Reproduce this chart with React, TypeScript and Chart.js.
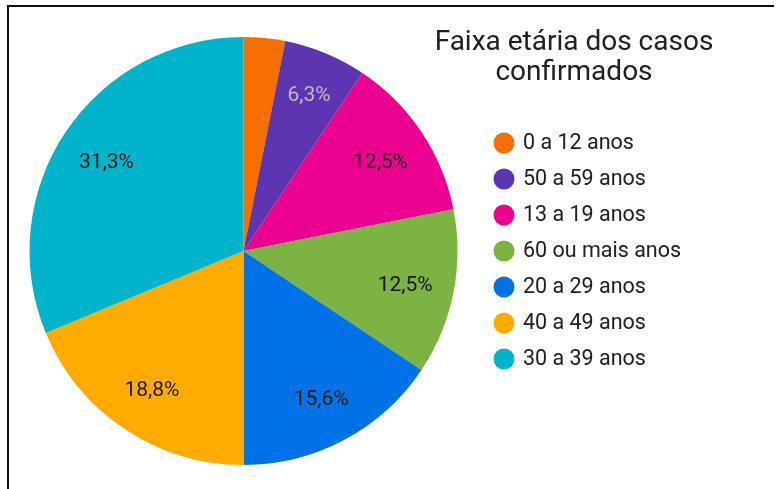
import React, { useEffect, useRef } from "react";
import { Chart, registerables } from "chart.js";

Chart.register(...registerables);

const categories = [
  "0 a 12 anos",
  "50 a 59 anos",
  "13 a 19 anos",
  "60 ou mais anos",
  "20 a 29 anos",
  "40 a 49 anos",
  "30 a 39 anos",
];
const counts = [1, 2, 4, 4, 5, 6, 10];
const percentLabels = ["3,1%", "6,3%", "12,5%", "12,5%", "15,6%", "18,8%", "31,3%"];
const colors = ["#f57000", "#5e35b1", "#ec0090", "#7cb342", "#0072e8", "#ffab00", "#00b4cb"];
const labelColors = ["#000000", "#bdbdbd", "#1a1a1a", "#1a1a1a", "#1a1a1a", "#1a1a1a", "#1a1a1a"];
const titleLines = ["Faixa etária dos casos", "confirmados"];

const FONT = "Roboto, 'Noto Sans', sans-serif";

const overlayPlugin = {
  id: "overlay",
  afterDatasetsDraw(chart: any) {
    const ctx = chart.ctx;
    const meta = chart.getDatasetMeta(0);
    ctx.save();
    // slice labels
    ctx.font = `21px ${FONT}`;
    ctx.textAlign = "center";
    ctx.textBaseline = "middle";
    meta.data.forEach((arc: any, i: number) => {
      const p = arc.getProps(["x", "y", "startAngle", "endAngle", "outerRadius"], true);
      const sweep = p.endAngle - p.startAngle;
      if (sweep < 0.3) return;
      const mid = (p.startAngle + p.endAngle) / 2;
      const r = p.outerRadius * (sweep < 0.5 ? 0.8 : 0.77);
      ctx.fillStyle = labelColors[i];
      ctx.fillText(percentLabels[i], p.x + Math.cos(mid) * r, p.y + Math.sin(mid) * r + 3);
    });
    // title
    ctx.fillStyle = "#212121";
    ctx.font = `28px ${FONT}`;
    ctx.fillText(titleLines[0], 574, 43);
    ctx.fillText(titleLines[1], 574, 73);
    // legend
    ctx.font = `21.5px ${FONT}`;
    ctx.textAlign = "left";
    categories.forEach((c, i) => {
      const y = 143 + i * 36;
      ctx.fillStyle = colors[i];
      ctx.beginPath();
      ctx.arc(504, y, 10.5, 0, Math.PI * 2);
      ctx.fill();
      ctx.fillStyle = "#212121";
      ctx.fillText(c, 523, y + 1);
    });
    ctx.restore();
  },
};

export default function App() {
  const ref = useRef<HTMLCanvasElement>(null);
  useEffect(() => {
    document.body.style.margin = "0";
    document.body.style.background = "#ffffff";
    const chart = new Chart(ref.current as HTMLCanvasElement, {
      type: "pie",
      data: {
        labels: categories,
        datasets: [
          {
            data: counts,
            backgroundColor: colors,
            borderWidth: 0,
          },
        ],
      },
      options: {
        animation: false,
        responsive: false,
        layout: { padding: { left: 29, right: 318, top: 37, bottom: 24 } },
        plugins: {
          legend: { display: false },
          title: { display: false },
          tooltip: { enabled: false },
        },
      },
      plugins: [overlayPlugin],
    });
    return () => chart.destroy();
  }, []);
  return (
    <div style={{ position: "relative", width: 776, height: 489, background: "#fff", overflow: "hidden" }}>
      <canvas ref={ref} width={776} height={489} style={{ position: "absolute", left: 0, top: 0 }} />
      <div
        style={{
          position: "absolute",
          left: 7,
          top: 5,
          width: 765,
          height: 490,
          borderTop: "2px solid #111",
          borderLeft: "2px solid #111",
          pointerEvents: "none",
        }}
      />
    </div>
  );
}
